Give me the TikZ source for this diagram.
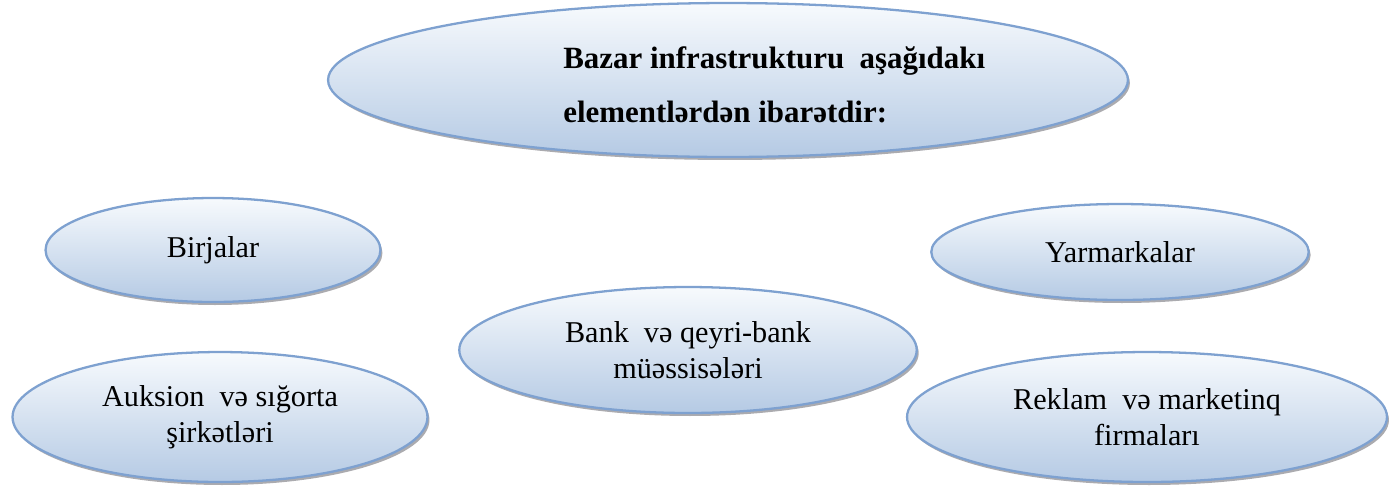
\documentclass[tikz,border=0pt]{standalone}
\usepackage{fontspec}
\setmainfont{Liberation Serif}
\usepackage{tikz}
\usetikzlibrary{shapes,shadows,positioning}
\definecolor{ovalline}{RGB}{126,161,208}
\definecolor{ovaltop}{RGB}{247,250,253}
\definecolor{ovalbottom}{RGB}{181,202,228}
\definecolor{ovalshadow}{RGB}{150,150,155}

\begin{document}
\begin{tikzpicture}[x=0.02cm, y=-0.02cm]
    % Define node styles
    \tikzstyle{oval} = [ellipse, draw=ovalline, line width=1.3pt, top color=ovaltop, bottom color=ovalbottom, inner sep=0pt, align=center, font=\fontsize{17.2}{20.5}\selectfont, drop shadow={shadow xshift=0.04cm, shadow yshift=-0.06cm, fill=ovalshadow, opacity=0.8}]
    \tikzstyle{heading} = [align=left, inner sep=0pt, font=\fontsize{17.6}{31}\selectfont\bfseries]

    \useasboundingbox (0,0) rectangle (1389,485);

    % Main oval
    \node[oval, minimum width=16cm, minimum height=3.08cm] (infra) at (728,80) {};
    \node[heading, anchor=west] (infratext) at (563,85) {Bazar infrastrukturu\ \ aşağıdakı\\elementlərdən ibarətdir:};

    % Elements
    \node[oval, minimum width=6.7cm, minimum height=2.08cm] (birja) at (213,250) {Birjalar};
    \node[oval, minimum width=7.55cm, minimum height=1.92cm] (yarmarka) at (1120,252) {Yarmarkalar};
    \node[oval, minimum width=9.15cm, minimum height=2.52cm] (bank) at (688,350) {Bank\ \ və qeyri-bank\\müəssisələri};
    \node[oval, minimum width=8.3cm, minimum height=2.6cm] (auksion) at (220,417) {Auksion\ \ və sığorta\\şirkətləri};
    \node[oval, minimum width=9.6cm, minimum height=2.6cm] (reklam) at (1147,417) {Reklam\ \ və marketinq\\firmaları};

\end{tikzpicture}
\end{document}
